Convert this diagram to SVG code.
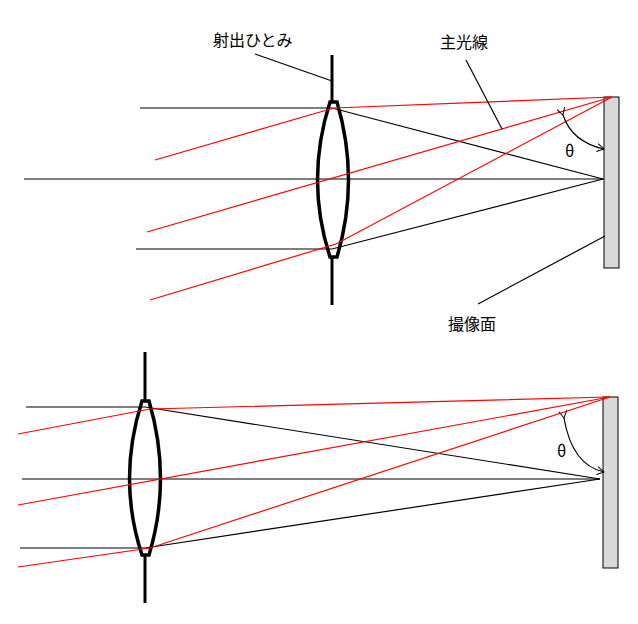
<svg xmlns="http://www.w3.org/2000/svg" width="638" height="624" viewBox="0 0 638 624">
<style>
.k{stroke:#000;stroke-width:1.2;fill:none}
.r{stroke:#f00;stroke-width:1.2;fill:none}
.lens{stroke:#000;stroke-width:3.5;fill:none}
.ax{stroke:#000;stroke-width:3;fill:none}
.s{fill:#d9d9d9;stroke:#000;stroke-width:1}
text{font-family:"Noto Sans CJK JP","Liberation Sans",sans-serif;font-size:16px;fill:#000}
</style>
<defs><marker id="a" markerWidth="10" markerHeight="10" refX="8" refY="5" orient="auto" markerUnits="userSpaceOnUse"><path d="M1,1 L8,5 L1,9" fill="none" stroke="#000" stroke-width="1"/></marker></defs>
<g id="top">
<g id="lens1"><line class="ax" x1="332" y1="55" x2="332" y2="103"/><line class="ax" x1="332" y1="257" x2="332" y2="305"/>
<path class="lens" d="M330,102 L337,102 Q360,180 337,257 L330,257 Q305,180 330,102 Z"/></g>
<rect id="sensor1" class="s" x="604" y="97" width="15" height="171"/>
<g id="rays1">
<polyline class="k" points="140,108 332,108 603,179"/>
<line class="k" x1="24" y1="179" x2="604" y2="179"/>
<polyline class="k" points="136,249 332,249 603,179"/>
<polyline class="r" points="155,160 334,108 612,97"/>
<polyline class="r" points="147,232 612,97"/>
<polyline class="r" points="150,300 336,244 612,97"/>
</g>
<g id="leaders1">
<line class="k" x1="255" y1="54" x2="332" y2="81" stroke-width="1"/>
<line class="k" x1="466" y1="60" x2="502" y2="129" stroke-width="1"/>
<line class="k" x1="605" y1="236" x2="478" y2="304" stroke-width="1"/>
<path class="k" stroke-width="1" d="M563,115 Q572,142 604,149" marker-end="url(#a)" marker-start="url(#a)"/>
</g>
<text x="213" y="46">射出ひとみ</text>
<text x="440" y="48">主光線</text>
<text x="448" y="330">撮像面</text>
<text x="565" y="157" font-family="Liberation Sans">θ</text>
</g>
<g id="bottom">
<g id="lens2"><line class="ax" x1="145" y1="352" x2="145" y2="402"/><line class="ax" x1="145" y1="555" x2="145" y2="603"/>
<path class="lens" d="M142,401 L149,401 Q172,479 149,555 L142,555 Q117,479 142,401 Z"/></g>
<rect id="sensor2" class="s" x="603" y="397" width="15" height="171"/>
<g id="rays2">
<polyline class="k" points="26,407 145,407 600,479"/>
<line class="k" x1="22" y1="479" x2="600" y2="479"/>
<polyline class="k" points="20,548 145,548 600,479"/>
<polyline class="r" points="18,434 150,409 610,397"/>
<polyline class="r" points="18,505 610,397"/>
<polyline class="r" points="18,567 150,548 610,397"/>
<path class="k" stroke-width="1" d="M564,418 Q572,465 604,472" marker-end="url(#a)" marker-start="url(#a)"/>
</g>
<text x="557" y="457" font-family="Liberation Sans">θ</text>
</g>
</svg>
